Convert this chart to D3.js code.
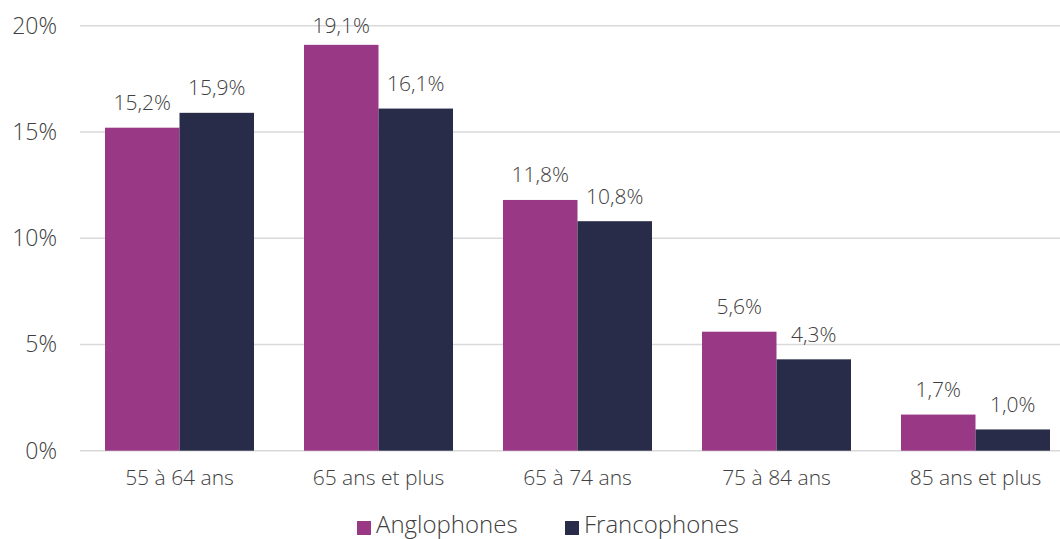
<!DOCTYPE html>
<html>
<head>
<meta charset="utf-8">
<script src="https://cdn.jsdelivr.net/npm/d3@7"></script>
<style>
  body { margin: 0; background: #fff; }
  svg { display: block; font-family: "Open Sans", sans-serif; font-weight: 300; }
</style>
</head>
<body>
<script>
const CATEGORIES = ['55 à 64 ans', '65 ans et plus', '65 à 74 ans', '75 à 84 ans', '85 ans et plus'];
const SERIES = ['Anglophones', 'Francophones'];
const ANGLO = [15.2, 19.1, 11.8, 5.6, 1.7];
const FRANCO = [15.9, 16.1, 10.8, 4.3, 1.0];
const Y_TICKS = [0, 5, 10, 15, 20];
const COLORS = ['#993885', '#282c48'];

const [W, H] = [1060, 539];
const PLOT = { left: 80, right: 1075, top: 25.7, bottom: 450.7 };
const TEXT_COLOR = '#404040';
const fmt = v => v.toFixed(1).replace('.', ',') + '%';

const svg = d3.select('body').append('svg').attr('width', W).attr('height', H);

const x0 = d3.scaleBand()
    .domain(CATEGORIES)
    .range([PLOT.left, PLOT.right])
    .paddingInner(50 / 199)
    .paddingOuter(25 / 199);

const x1 = d3.scaleBand()
    .domain(SERIES)
    .range([0, x0.bandwidth()]);

const y = d3.scaleLinear()
    .domain([0, 20])
    .range([PLOT.bottom, PLOT.top]);

// gridlines
svg.append('g')
    .selectAll('line')
    .data(Y_TICKS)
    .enter()
    .append('line')
    .attr('x1', PLOT.left)
    .attr('x2', PLOT.right)
    .attr('y1', d => y(d))
    .attr('y2', d => y(d))
    .attr('stroke', '#d9d9d9')
    .attr('stroke-width', 1.5);

// y axis labels
const yAxis = d3.axisLeft(y)
    .tickValues(Y_TICKS)
    .tickSize(0)
    .tickPadding(23)
    .tickFormat(d => d + '%');

svg.append('g')
    .attr('transform', 'translate(' + PLOT.left + ',0)')
    .call(yAxis)
    .call(g => g.select('.domain').remove())
    .call(g => g.selectAll('text')
        .attr('fill', TEXT_COLOR)
        .style('font-size', '23px')
        .style('font-family', '"Open Sans", sans-serif')
        .style('font-weight', 300));

// x axis labels
const xAxis = d3.axisBottom(x0)
    .tickSize(0)
    .tickPadding(19);

svg.append('g')
    .attr('transform', 'translate(0,' + PLOT.bottom + ')')
    .call(xAxis)
    .call(g => g.select('.domain').remove())
    .call(g => g.selectAll('text')
        .attr('fill', TEXT_COLOR)
        .style('font-size', '21px')
        .style('font-family', '"Open Sans", sans-serif')
        .style('font-weight', 300));

// bars
const rows = CATEGORIES.map((c, i) => ({ cat: c, values: [ANGLO[i], FRANCO[i]] }));

const groups = svg.append('g')
    .selectAll('g')
    .data(rows)
    .enter()
    .append('g')
    .attr('transform', d => 'translate(' + x0(d.cat) + ',0)');

groups.selectAll('rect')
    .data(d => d.values.map((v, j) => ({ s: SERIES[j], v: v, j: j })))
    .enter()
    .append('rect')
    .attr('x', d => x1(d.s))
    .attr('width', x1.bandwidth())
    .attr('y', d => y(d.v))
    .attr('height', d => y(0) - y(d.v))
    .attr('fill', d => COLORS[d.j]);

// value labels, kept inside the plot area like the original
groups.selectAll('text')
    .data(d => d.values.map((v, j) => ({ s: SERIES[j], v: v })))
    .enter()
    .append('text')
    .attr('x', d => x1(d.s) + x1.bandwidth() / 2)
    .attr('y', d => Math.max(y(d.v) - 17.5, PLOT.top + 7))
    .attr('text-anchor', 'middle')
    .attr('fill', TEXT_COLOR)
    .style('font-size', '21px')
    .text(d => fmt(d.v));

// legend
const legend = svg.append('g').attr('transform', 'translate(0,533)');
const LEGEND_X = [357, 565];
SERIES.forEach((s, i) => {
    legend.append('rect')
        .attr('x', LEGEND_X[i])
        .attr('y', -12)
        .attr('width', 14)
        .attr('height', 14)
        .attr('fill', COLORS[i]);
    legend.append('text')
        .attr('x', LEGEND_X[i] + 19)
        .attr('y', 0)
        .attr('fill', TEXT_COLOR)
        .style('font-size', '24px')
        .text(s);
});
</script>
</body>
</html>
